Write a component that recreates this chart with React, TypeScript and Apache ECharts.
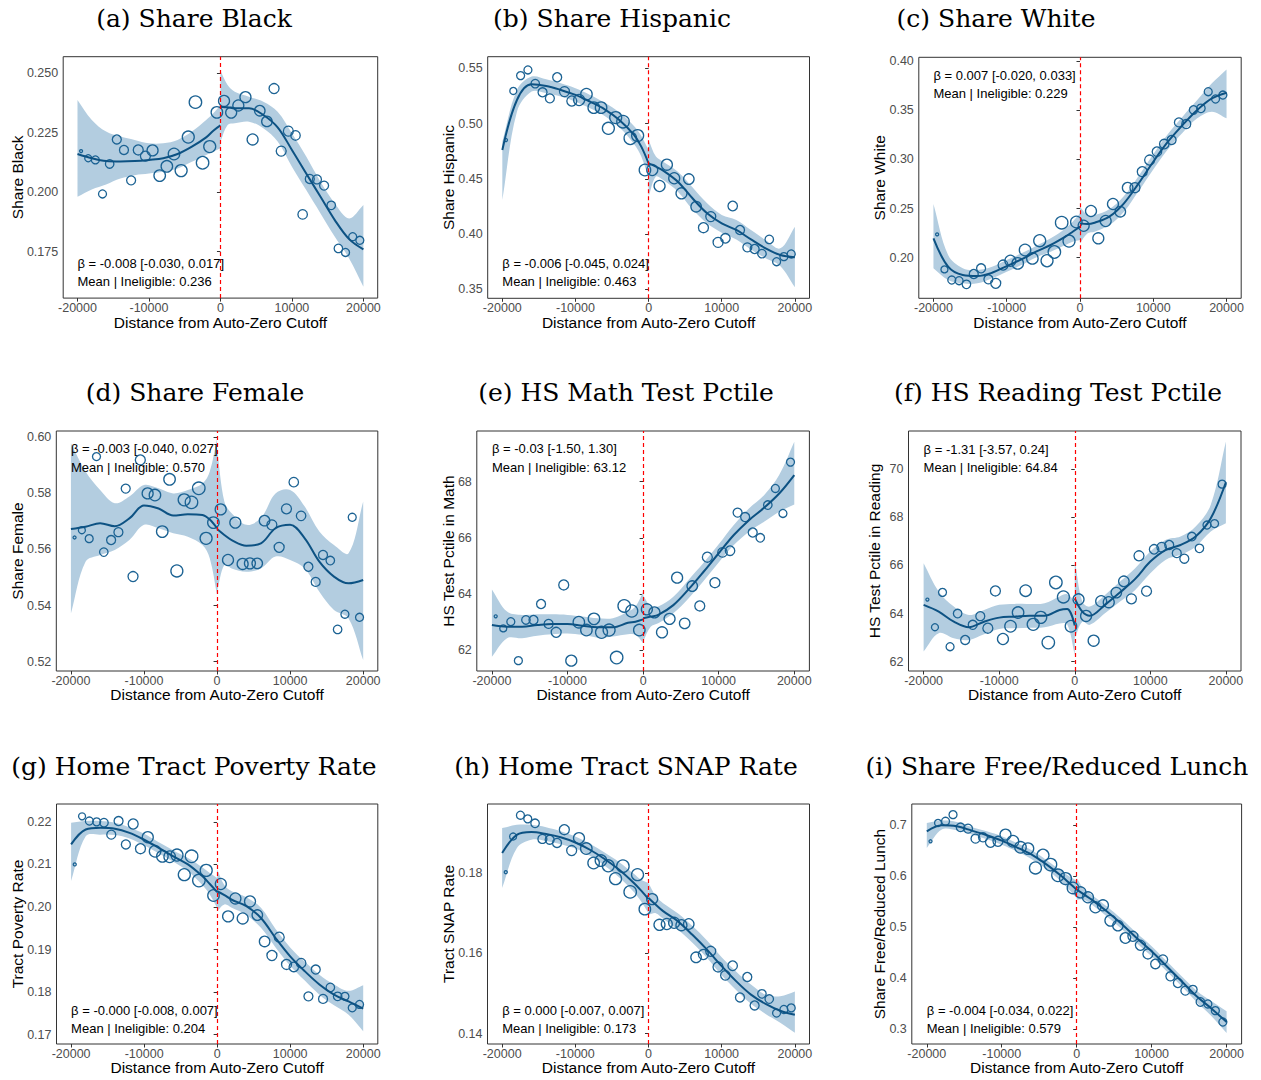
import React, { useEffect, useRef } from "react";
import * as echarts from "echarts";

// ---------- shared data ----------
const BIN_X = [-19500, -18500, -17500, -16500, -15500, -14500, -13500, -12500, -11500, -10500,
  -9500, -8500, -7500, -6500, -5500, -4500, -3500, -2500, -1500, -500,
  500, 1500, 2500, 3500, 4500, 5500, 6500, 7500, 8500, 9500,
  10500, 11500, 12500, 13500, 14500, 15500, 16500, 17500, 18500, 19500];
const BIN_SIZE = [3, 7, 8, 8, 8.5, 9, 9, 9, 10, 10, 11, 11.5, 11.5, 11.5, 12, 12, 12.5, 12.5, 12, 11.5,
  11, 11, 11, 11, 11, 10.5, 10.5, 10, 10, 10, 9.5, 9.5, 9, 9, 9, 8.5, 8.5, 8, 8, 8];
const FIT_X_L = [-20000, -18000, -16000, -14000, -12000, -10000, -8000, -6000, -4000, -2000, -1000, 0];
const FIT_X_R = [0, 1000, 2000, 4000, 6000, 8000, 10000, 12000, 14000, 16000, 18000, 20000];
const X_TICKS = [-20000, -10000, 0, 10000, 20000];

// (a) Share Black
const A_Y = [0.2173, 0.2143, 0.2136, 0.1993, 0.2119, 0.2222, 0.2178, 0.2050, 0.2178, 0.2152, 0.2176, 0.2070, 0.2109, 0.2161, 0.2091, 0.2232, 0.2379, 0.2124, 0.2192, 0.2336, 0.2384, 0.2335, 0.2365, 0.2400, 0.2222, 0.2343, 0.2298, 0.2436, 0.2173, 0.2257, 0.2239, 0.1907, 0.2056, 0.2054, 0.2028, 0.1945, 0.1764, 0.1747, 0.1813, 0.1798];
const A_FIT_L = [0.2161, 0.2143, 0.2131, 0.2129, 0.2131, 0.2136, 0.2143, 0.2161, 0.2192, 0.2231, 0.2259, 0.2281];
const A_FIT_R = [0.2360, 0.2357, 0.2353, 0.2353, 0.2325, 0.2273, 0.2178, 0.2079, 0.1981, 0.1883, 0.1803, 0.1760];
const A_LO_L = [0.1981, 0.2012, 0.2033, 0.2058, 0.2072, 0.2079, 0.2086, 0.2100, 0.2128, 0.2157, 0.2171, 0.2185];
const A_HI_L = [0.2388, 0.2304, 0.2255, 0.2234, 0.2220, 0.2206, 0.2206, 0.2220, 0.2255, 0.2304, 0.2332, 0.2367];
const A_LO_R = [0.2213, 0.2283, 0.2290, 0.2297, 0.2269, 0.2213, 0.2107, 0.2009, 0.1911, 0.1813, 0.1722, 0.1603];
const A_HI_R = [0.2511, 0.2451, 0.2423, 0.2402, 0.2381, 0.2339, 0.2248, 0.2150, 0.2044, 0.1953, 0.1890, 0.1946];
const A_TICKS = [0.175, 0.2, 0.225, 0.25];

// (b) Share Hispanic
const B_Y = [0.4851, 0.5295, 0.5434, 0.5485, 0.5361, 0.5283, 0.5228, 0.5419, 0.5289, 0.5204, 0.5213, 0.5265, 0.5144, 0.5144, 0.4957, 0.5054, 0.5017, 0.4867, 0.4891, 0.4580, 0.4580, 0.4435, 0.4628, 0.4505, 0.4369, 0.4498, 0.4248, 0.4058, 0.4158, 0.3925, 0.3962, 0.4254, 0.4037, 0.3880, 0.3865, 0.3823, 0.3952, 0.3750, 0.3796, 0.3820];
const B_FIT_L = [0.4761, 0.5213, 0.5355, 0.5340, 0.5304, 0.5259, 0.5198, 0.5129, 0.5032, 0.4897, 0.4791, 0.4640];
const B_FIT_R = [0.4640, 0.4610, 0.4574, 0.4474, 0.4324, 0.4188, 0.4097, 0.4037, 0.3952, 0.3871, 0.3811, 0.3790];
const B_LO_L = [0.4308, 0.5108, 0.5289, 0.5274, 0.5244, 0.5198, 0.5138, 0.5069, 0.4966, 0.4815, 0.4701, 0.4505];
const B_HI_L = [0.4836, 0.5304, 0.5425, 0.5400, 0.5364, 0.5319, 0.5259, 0.5189, 0.5102, 0.4978, 0.4888, 0.4761];
const B_LO_R = [0.4339, 0.4520, 0.4489, 0.4384, 0.4224, 0.4097, 0.4013, 0.3952, 0.3861, 0.3781, 0.3711, 0.3518];
const B_HI_R = [0.4851, 0.4701, 0.4655, 0.4565, 0.4423, 0.4278, 0.4173, 0.4128, 0.4037, 0.3946, 0.3871, 0.4067];
const B_TICKS = [0.35, 0.40, 0.45, 0.50, 0.55];

// (c) Share White
const C_Y = [0.2237, 0.1881, 0.1773, 0.1766, 0.1729, 0.1834, 0.1892, 0.1780, 0.1739, 0.1925, 0.1969, 0.1942, 0.2078, 0.1993, 0.2173, 0.1969, 0.2058, 0.2356, 0.2169, 0.2363, 0.2325, 0.2475, 0.2197, 0.2373, 0.2546, 0.2468, 0.2712, 0.2712, 0.2875, 0.2993, 0.3078, 0.3156, 0.3197, 0.3376, 0.3359, 0.3502, 0.3519, 0.3688, 0.3614, 0.3654];
const C_FIT_L = [0.2197, 0.1908, 0.1824, 0.1814, 0.1847, 0.1915, 0.1983, 0.2061, 0.2129, 0.2214, 0.2264, 0.2315];
const C_FIT_R = [0.2349, 0.2342, 0.2356, 0.2417, 0.2553, 0.2756, 0.2976, 0.3180, 0.3349, 0.3502, 0.3620, 0.3678];
const C_LO_L = [0.1892, 0.1773, 0.1739, 0.1739, 0.1790, 0.1858, 0.1925, 0.2003, 0.2061, 0.2129, 0.2163, 0.2180];
const C_HI_L = [0.2546, 0.2027, 0.1892, 0.1875, 0.1908, 0.1976, 0.2044, 0.2119, 0.2197, 0.2298, 0.2366, 0.2451];
const C_LO_R = [0.2146, 0.2247, 0.2264, 0.2332, 0.2468, 0.2678, 0.2898, 0.3102, 0.3271, 0.3417, 0.3485, 0.3417];
const C_HI_R = [0.2519, 0.2434, 0.2434, 0.2492, 0.2627, 0.2831, 0.3051, 0.3258, 0.3434, 0.3603, 0.3773, 0.3915];
const C_TICKS = [0.20, 0.25, 0.30, 0.35, 0.40];

// (d) Share Female
const D_Y = [0.5642, 0.5668, 0.5638, 0.5930, 0.5590, 0.5633, 0.5661, 0.5816, 0.5503, 0.5918, 0.5799, 0.5793, 0.5663, 0.5849, 0.5523, 0.5776, 0.5767, 0.5817, 0.5639, 0.5695, 0.5742, 0.5562, 0.5695, 0.5548, 0.5550, 0.5550, 0.5702, 0.5687, 0.5607, 0.5744, 0.5839, 0.5719, 0.5538, 0.5484, 0.5580, 0.5560, 0.5315, 0.5369, 0.5714, 0.5358];
const D_FIT_L = [0.5672, 0.5680, 0.5693, 0.5682, 0.5710, 0.5756, 0.5745, 0.5720, 0.5725, 0.5722, 0.5706, 0.5675];
const D_FIT_R = [0.5672, 0.5651, 0.5633, 0.5613, 0.5621, 0.5675, 0.5687, 0.5639, 0.5556, 0.5503, 0.5479, 0.5491];
const D_LO_L = [0.5372, 0.5556, 0.5580, 0.5598, 0.5633, 0.5687, 0.5675, 0.5657, 0.5645, 0.5615, 0.5568, 0.5437];
const D_HI_L = [0.5977, 0.5877, 0.5811, 0.5764, 0.5788, 0.5829, 0.5817, 0.5799, 0.5811, 0.5834, 0.5877, 0.5995];
const D_LO_R = [0.5449, 0.5544, 0.5532, 0.5520, 0.5532, 0.5574, 0.5562, 0.5532, 0.5449, 0.5384, 0.5354, 0.5206];
const D_HI_R = [0.5960, 0.5770, 0.5728, 0.5687, 0.5711, 0.5799, 0.5811, 0.5752, 0.5663, 0.5615, 0.5586, 0.5770];
const D_TICKS = [0.52, 0.54, 0.56, 0.58, 0.60];

// (e) HS Math Test Pctile
const E_Y = [63.20, 62.77, 63.01, 61.62, 63.07, 63.07, 63.64, 62.93, 62.63, 64.32, 61.62, 62.99, 62.71, 63.11, 62.63, 62.71, 61.73, 63.57, 63.39, 62.71, 63.45, 63.34, 62.63, 63.11, 64.58, 62.95, 64.28, 63.57, 65.31, 64.40, 65.48, 65.54, 66.90, 66.74, 66.19, 66.00, 67.17, 67.76, 66.87, 68.70];
const E_FIT_L = [62.89, 62.83, 62.83, 62.89, 62.93, 62.93, 62.86, 62.81, 62.81, 62.97, 63.01, 63.09];
const E_FIT_R = [63.13, 63.19, 63.25, 63.60, 64.16, 64.79, 65.45, 66.10, 66.63, 67.07, 67.58, 68.24];
const E_LO_L = [61.76, 62.42, 62.42, 62.51, 62.56, 62.59, 62.54, 62.44, 62.48, 62.56, 62.54, 62.24];
const E_HI_L = [64.16, 63.37, 63.25, 63.27, 63.27, 63.25, 63.19, 63.13, 63.13, 63.37, 63.55, 64.08];
const E_LO_R = [62.30, 62.83, 62.95, 63.31, 63.84, 64.46, 65.12, 65.74, 66.22, 66.57, 66.93, 67.19];
const E_HI_R = [63.96, 63.55, 63.55, 63.90, 64.50, 65.11, 65.77, 66.46, 67.05, 67.52, 68.24, 69.43];
const E_TICKS = [62, 64, 66, 68];

// (f) HS Reading Test Pctile
const F_Y = [64.58, 63.43, 64.88, 62.62, 64.00, 62.90, 63.53, 63.89, 63.39, 64.94, 62.94, 63.47, 64.04, 64.95, 63.55, 63.84, 62.79, 65.29, 64.69, 63.47, 64.59, 63.90, 62.87, 64.51, 64.47, 64.87, 65.34, 64.61, 66.40, 64.93, 66.67, 66.76, 66.85, 66.51, 66.28, 67.20, 66.71, 67.68, 67.74, 69.38];
const F_FIT_L = [64.36, 64.08, 63.66, 63.43, 63.66, 63.83, 63.87, 63.91, 63.91, 64.15, 64.19, 63.50];
const F_FIT_R = [64.63, 64.08, 63.91, 64.36, 64.88, 65.44, 66.16, 66.64, 66.85, 67.20, 67.96, 69.46];
const F_LO_L = [62.42, 63.18, 62.97, 62.90, 63.14, 63.36, 63.39, 63.41, 63.43, 63.59, 63.55, 62.28];
const F_HI_L = [66.09, 64.91, 64.29, 63.94, 64.15, 64.36, 64.40, 64.40, 64.43, 64.71, 64.80, 64.50];
const F_LO_R = [62.97, 63.66, 63.53, 64.01, 64.50, 64.98, 65.67, 66.23, 66.44, 66.78, 67.41, 67.75];
const F_HI_R = [66.23, 64.50, 64.29, 64.77, 65.33, 65.88, 66.58, 67.06, 67.20, 67.62, 68.52, 71.15];
const F_TICKS = [62, 64, 66, 68, 70];

// (g) Home Tract Poverty Rate
const G_Y = [0.2100, 0.2213, 0.2202, 0.2200, 0.2198, 0.2170, 0.2202, 0.2147, 0.2195, 0.2137, 0.2164, 0.2131, 0.2119, 0.2118, 0.2122, 0.2076, 0.2119, 0.2062, 0.2086, 0.2027, 0.2054, 0.1978, 0.2020, 0.1973, 0.2013, 0.1981, 0.1919, 0.1886, 0.1929, 0.1865, 0.1859, 0.1868, 0.1790, 0.1853, 0.1784, 0.1811, 0.1790, 0.1790, 0.1763, 0.1771];
const G_FIT_L = [0.2147, 0.2182, 0.2186, 0.2184, 0.2174, 0.2158, 0.2139, 0.2119, 0.2100, 0.2072, 0.2054, 0.2035];
const G_FIT_R = [0.2037, 0.2028, 0.2017, 0.2002, 0.1974, 0.1927, 0.1884, 0.1849, 0.1818, 0.1794, 0.1778, 0.1761];
const G_LO_L = [0.2061, 0.2166, 0.2170, 0.2169, 0.2161, 0.2145, 0.2126, 0.2106, 0.2084, 0.2051, 0.2029, 0.1998];
const G_HI_L = [0.2198, 0.2202, 0.2202, 0.2198, 0.2187, 0.2172, 0.2152, 0.2133, 0.2115, 0.2093, 0.2080, 0.2068];
const G_LO_R = [0.1990, 0.2006, 0.1998, 0.1981, 0.1951, 0.1905, 0.1862, 0.1827, 0.1794, 0.1769, 0.1747, 0.1708];
const G_HI_R = [0.2088, 0.2051, 0.2037, 0.2023, 0.1998, 0.1948, 0.1905, 0.1871, 0.1841, 0.1818, 0.1803, 0.1816];
const G_TICKS = [0.17, 0.18, 0.19, 0.20, 0.21, 0.22];

// (h) Home Tract SNAP Rate
const H_Y = [0.1802, 0.1891, 0.1944, 0.1935, 0.1924, 0.1885, 0.1883, 0.1875, 0.1908, 0.1856, 0.1887, 0.1861, 0.1825, 0.1831, 0.1818, 0.1786, 0.1817, 0.1753, 0.1796, 0.1710, 0.1735, 0.1671, 0.1673, 0.1676, 0.1670, 0.1673, 0.1590, 0.1597, 0.1605, 0.1566, 0.1545, 0.1569, 0.1490, 0.1541, 0.1470, 0.1499, 0.1486, 0.1451, 0.1460, 0.1464];
const H_FIT_L = [0.1850, 0.1895, 0.1902, 0.1897, 0.1889, 0.1876, 0.1858, 0.1835, 0.1808, 0.1775, 0.1756, 0.1735];
const H_FIT_R = [0.1738, 0.1721, 0.1705, 0.1680, 0.1646, 0.1609, 0.1568, 0.1530, 0.1497, 0.1474, 0.1457, 0.1447];
const H_LO_L = [0.1763, 0.1862, 0.1883, 0.1880, 0.1872, 0.1861, 0.1843, 0.1818, 0.1789, 0.1753, 0.1729, 0.1700];
const H_HI_L = [0.1912, 0.1920, 0.1920, 0.1914, 0.1904, 0.1891, 0.1873, 0.1851, 0.1827, 0.1798, 0.1783, 0.1775];
const H_LO_R = [0.1696, 0.1700, 0.1686, 0.1659, 0.1626, 0.1588, 0.1545, 0.1508, 0.1474, 0.1449, 0.1427, 0.1402];
const H_HI_R = [0.1775, 0.1742, 0.1725, 0.1700, 0.1668, 0.1632, 0.1590, 0.1554, 0.1522, 0.1497, 0.1493, 0.1505];
const H_TICKS = [0.14, 0.16, 0.18];

// (i) Share Free/Reduced Lunch
const I_Y = [0.6686, 0.7046, 0.7079, 0.7209, 0.6961, 0.6935, 0.6738, 0.6764, 0.6666, 0.6686, 0.6817, 0.6686, 0.6568, 0.6542, 0.6162, 0.6411, 0.6228, 0.6018, 0.5953, 0.5769, 0.5684, 0.5586, 0.5390, 0.5429, 0.5128, 0.5030, 0.4787, 0.4820, 0.4643, 0.4473, 0.4277, 0.4362, 0.4034, 0.3903, 0.3753, 0.3773, 0.3530, 0.3491, 0.3360, 0.3137];
const I_FIT_L = [0.6882, 0.7000, 0.6980, 0.6895, 0.6804, 0.6699, 0.6568, 0.6424, 0.6228, 0.5998, 0.5867, 0.5736];
const I_FIT_R = [0.5736, 0.5638, 0.5540, 0.5311, 0.5062, 0.4787, 0.4525, 0.4231, 0.3936, 0.3641, 0.3399, 0.3137];
const I_LO_L = [0.6555, 0.6915, 0.6902, 0.6817, 0.6725, 0.6620, 0.6489, 0.6332, 0.6136, 0.5887, 0.5736, 0.5573];
const I_HI_L = [0.7046, 0.7092, 0.7065, 0.6967, 0.6882, 0.6784, 0.6653, 0.6509, 0.6313, 0.6097, 0.5998, 0.5913];
const I_LO_R = [0.5540, 0.5540, 0.5442, 0.5213, 0.4964, 0.4689, 0.4427, 0.4133, 0.3838, 0.3530, 0.3249, 0.2921];
const I_HI_R = [0.5966, 0.5736, 0.5638, 0.5409, 0.5160, 0.4885, 0.4624, 0.4329, 0.4035, 0.3753, 0.3543, 0.3347];
const I_TICKS = [0.3, 0.4, 0.5, 0.6, 0.7];

// ---------- panel configuration ----------
type Panel = {
  title: string; yName: string; beta: string; mean: string;
  y: number[]; fitL: number[]; fitR: number[]; loL: number[]; hiL: number[]; loR: number[]; hiR: number[];
  ticks: number[]; dec: number; yMin: number; yMax: number;
  grid: number[]; titleX: number; titleY: number; yTitleX: number; xTitleY: number; annoY: number[];
};

const PANELS: Panel[] = [
  { title: "(a) Share Black", yName: "Share Black", beta: "β = -0.008 [-0.030, 0.017]", mean: "Mean | Ineligible: 0.236",
    y: A_Y, fitL: A_FIT_L, fitR: A_FIT_R, loL: A_LO_L, hiL: A_HI_L, loR: A_LO_R, hiR: A_HI_R,
    ticks: A_TICKS, dec: 3, yMin: 0.1555, yMax: 0.257,
    grid: [63.2, 56.7, 314.5, 241.4], titleX: 194, titleY: 18, yTitleX: 17.5, xTitleY: 322, annoY: [263.5, 281.5] },
  { title: "(b) Share Hispanic", yName: "Share Hispanic", beta: "β = -0.006 [-0.045, 0.024]", mean: "Mean | Ineligible: 0.463",
    y: B_Y, fitL: B_FIT_L, fitR: B_FIT_R, loL: B_LO_L, hiL: B_HI_L, loR: B_LO_R, hiR: B_HI_R,
    ticks: B_TICKS, dec: 2, yMin: 0.3419, yMax: 0.5605,
    grid: [487.7, 56.7, 321.8, 241.6], titleX: 612, titleY: 18, yTitleX: 448.5, xTitleY: 322, annoY: [263.5, 281.5] },
  { title: "(c) Share White", yName: "Share White", beta: "β = 0.007 [-0.020, 0.033]", mean: "Mean | Ineligible: 0.229",
    y: C_Y, fitL: C_FIT_L, fitR: C_FIT_R, loL: C_LO_L, hiL: C_HI_L, loR: C_LO_R, hiR: C_HI_R,
    ticks: C_TICKS, dec: 2, yMin: 0.1587, yMax: 0.4038,
    grid: [918.8, 57.3, 322.4, 241], titleX: 996, titleY: 18, yTitleX: 879, xTitleY: 322, annoY: [75, 93.5] },
  { title: "(d) Share Female", yName: "Share Female", beta: "β = -0.003 [-0.040, 0.027]", mean: "Mean | Ineligible: 0.570",
    y: D_Y, fitL: D_FIT_L, fitR: D_FIT_R, loL: D_LO_L, hiL: D_HI_L, loR: D_LO_R, hiR: D_HI_R,
    ticks: D_TICKS, dec: 2, yMin: 0.5167, yMax: 0.6021,
    grid: [56.3, 431, 321.5, 240], titleX: 195, titleY: 392, yTitleX: 17.5, xTitleY: 694, annoY: [448.5, 467] },
  { title: "(e) HS Math Test Pctile", yName: "HS Test Pctile in Math", beta: "β = -0.03 [-1.50, 1.30]", mean: "Mean | Ineligible: 63.12",
    y: E_Y, fitL: E_FIT_L, fitR: E_FIT_R, loL: E_LO_L, hiL: E_HI_L, loR: E_LO_R, hiR: E_HI_R,
    ticks: E_TICKS, dec: 0, yMin: 61.25, yMax: 69.81,
    grid: [476.8, 431, 332.6, 240], titleX: 626, titleY: 392, yTitleX: 448.5, xTitleY: 694, annoY: [448.5, 467] },
  { title: "(f) HS Reading Test Pctile", yName: "HS Test Pctile in Reading", beta: "β = -1.31 [-3.57, 0.24]", mean: "Mean | Ineligible: 64.84",
    y: F_Y, fitL: F_FIT_L, fitR: F_FIT_R, loL: F_LO_L, hiL: F_HI_L, loR: F_LO_R, hiR: F_HI_R,
    ticks: F_TICKS, dec: 0, yMin: 61.61, yMax: 71.59,
    grid: [908.5, 431, 332.5, 240], titleX: 1058, titleY: 392, yTitleX: 874, xTitleY: 694, annoY: [449, 467.5] },
  { title: "(g) Home Tract Poverty Rate", yName: "Tract Poverty Rate", beta: "β = -0.000 [-0.008, 0.007]", mean: "Mean | Ineligible: 0.204",
    y: G_Y, fitL: G_FIT_L, fitR: G_FIT_R, loL: G_LO_L, hiL: G_HI_L, loR: G_LO_R, hiR: G_HI_R,
    ticks: G_TICKS, dec: 2, yMin: 0.1678, yMax: 0.2242,
    grid: [56.5, 804, 321.3, 240], titleX: 194, titleY: 766, yTitleX: 17.5, xTitleY: 1067, annoY: [1010, 1028.7] },
  { title: "(h) Home Tract SNAP Rate", yName: "Tract SNAP Rate", beta: "β = 0.000 [-0.007, 0.007]", mean: "Mean | Ineligible: 0.173",
    y: H_Y, fitL: H_FIT_L, fitR: H_FIT_R, loL: H_LO_L, hiL: H_HI_L, loR: H_LO_R, hiR: H_HI_R,
    ticks: H_TICKS, dec: 2, yMin: 0.1374, yMax: 0.1972,
    grid: [487.5, 804, 322, 240], titleX: 626, titleY: 766, yTitleX: 448.5, xTitleY: 1067, annoY: [1010, 1028.7] },
  { title: "(i) Share Free/Reduced Lunch", yName: "Share Free/Reduced Lunch", beta: "β = -0.004 [-0.034, 0.022]", mean: "Mean | Ineligible: 0.579",
    y: I_Y, fitL: I_FIT_L, fitR: I_FIT_R, loL: I_LO_L, hiL: I_HI_L, loR: I_LO_R, hiR: I_HI_R,
    ticks: I_TICKS, dec: 1, yMin: 0.2705, yMax: 0.7418,
    grid: [911.8, 804, 329.8, 240], titleX: 1057, titleY: 766, yTitleX: 879, xTitleY: 1067, annoY: [1010, 1028.7] },
];

// ---------- styles ----------
const BAND = "#b3cde0";
const LINE = "#0d5283";
const POINT = "#1b6293";
const FRAME = "#333333";
const SANS = "Liberation Sans, Arial, Helvetica, sans-serif";
const SERIF = "DejaVu Serif, serif";

function bandSeries(i: number, xs: number[], lo: number[], hi: number[]) {
  return {
    type: "custom",
    xAxisIndex: i,
    yAxisIndex: i,
    silent: true,
    z: 1,
    data: xs.map((x, j) => [x, lo[j], hi[j]]),
    encode: { x: 0, y: [1, 2] },
    renderItem: (params: any, api: any) => {
      if (params.dataIndex !== 0) return null;
      const up = xs.map((x, j) => api.coord([x, hi[j]]));
      const dn = xs.map((x, j) => api.coord([x, lo[j]]));
      const n = xs.length - 1;
      const pts = [up[0], ...up, up[n], dn[n], ...dn.slice().reverse(), dn[0]];
      return {
        type: "polygon",
        shape: { points: pts, smooth: 0.35 },
        style: { fill: BAND, stroke: null, lineWidth: 0 },
      };
    },
  };
}

function buildOption() {
  const grid: any[] = [];
  const xAxis: any[] = [];
  const yAxis: any[] = [];
  const series: any[] = [];
  const graphic: any[] = [];

  PANELS.forEach((p, i) => {
    const [gl, gt, gw, gh] = p.grid;
    grid.push({
      left: gl, top: gt, width: gw, height: gh,
      show: true, borderColor: FRAME, borderWidth: 1, backgroundColor: "#ffffff",
      containLabel: false, outerBoundsMode: "none",
    });
    xAxis.push({
      type: "value", gridIndex: i, min: -22000, max: 22000,
      splitLine: { show: false },
      axisLine: { show: false },
      axisTick: { show: true, length: 3.5, inside: false, lineStyle: { color: FRAME, width: 1 }, customValues: X_TICKS },
      axisLabel: { customValues: X_TICKS, margin: 3, fontSize: 12.5, color: "#4d4d4d", fontFamily: SANS,
        formatter: (v: number) => String(Math.round(v)) },
    });
    yAxis.push({
      type: "value", gridIndex: i, min: p.yMin, max: p.yMax,
      splitLine: { show: false },
      axisLine: { show: false },
      axisTick: { show: true, length: 3.5, inside: false, lineStyle: { color: FRAME, width: 1 }, customValues: p.ticks },
      axisLabel: { customValues: p.ticks, margin: 5, fontSize: 12.5, color: "#4d4d4d", fontFamily: SANS,
        formatter: (v: number) => v.toFixed(p.dec) },
    });

    series.push(bandSeries(i, FIT_X_L, p.loL, p.hiL));
    series.push(bandSeries(i, FIT_X_R, p.loR, p.hiR));
    series.push({
      type: "scatter", xAxisIndex: i, yAxisIndex: i, silent: true, z: 2,
      data: BIN_X.map((x, j) => [x, p.y[j], BIN_SIZE[j]]),
      symbol: "circle",
      symbolSize: (v: number[]) => v[2],
      itemStyle: { color: "rgba(0,0,0,0)", borderColor: POINT, borderWidth: 1.3, opacity: 1 },
    });
    series.push({
      type: "line", xAxisIndex: i, yAxisIndex: i, silent: true, z: 3,
      data: FIT_X_L.map((x, j) => [x, p.fitL[j]]),
      smooth: 0.35, showSymbol: false, symbol: "none",
      lineStyle: { color: LINE, width: 2 },
    });
    series.push({
      type: "line", xAxisIndex: i, yAxisIndex: i, silent: true, z: 3,
      data: FIT_X_R.map((x, j) => [x, p.fitR[j]]),
      smooth: 0.35, showSymbol: false, symbol: "none",
      lineStyle: { color: LINE, width: 2 },
      markLine: {
        silent: true, symbol: ["none", "none"], label: { show: false },
        lineStyle: { color: "#ff0000", type: [4, 3], width: 1.2 },
        data: [{ xAxis: 0 }],
        z: 4,
      },
    });

    // titles and labels
    graphic.push({
      type: "text", x: p.titleX, y: p.titleY, silent: true,
      style: { text: p.title, fontFamily: SERIF, fontSize: 25, fill: "#000", align: "center", verticalAlign: "middle" },
    });
    graphic.push({
      type: "text", x: gl + gw / 2, y: p.xTitleY, silent: true,
      style: { text: "Distance from Auto-Zero Cutoff", fontFamily: SANS, fontSize: 15.5, fill: "#000", align: "center", verticalAlign: "middle" },
    });
    graphic.push({
      type: "text", x: p.yTitleX, y: gt + gh / 2, rotation: Math.PI / 2, silent: true,
      style: { text: p.yName, fontFamily: SANS, fontSize: 15.5, fill: "#000", align: "center", verticalAlign: "middle" },
    });
    const annoX = gl + (2000 / 44000) * gw;
    graphic.push({
      type: "text", x: annoX, y: p.annoY[0], silent: true, z: 10,
      style: { text: p.beta, fontFamily: SANS, fontSize: 13, fill: "#000", align: "left", verticalAlign: "middle" },
    });
    graphic.push({
      type: "text", x: annoX, y: p.annoY[1], silent: true, z: 10,
      style: { text: p.mean, fontFamily: SANS, fontSize: 13, fill: "#000", align: "left", verticalAlign: "middle" },
    });
  });

  return {
    animation: false,
    backgroundColor: "#ffffff",
    grid, xAxis, yAxis, series, graphic,
  };
}

export default function App() {
  const ref = useRef<HTMLDivElement>(null);
  useEffect(() => {
    if (!ref.current) return;
    const chart = echarts.init(ref.current, null, { renderer: "svg" });
    chart.setOption(buildOption() as any);
    return () => chart.dispose();
  }, []);
  return (
    <div
      ref={ref}
      style={{ position: "absolute", left: 0, top: 0, width: 1261, height: 1080, background: "#fff" }}
    />
  );
}
